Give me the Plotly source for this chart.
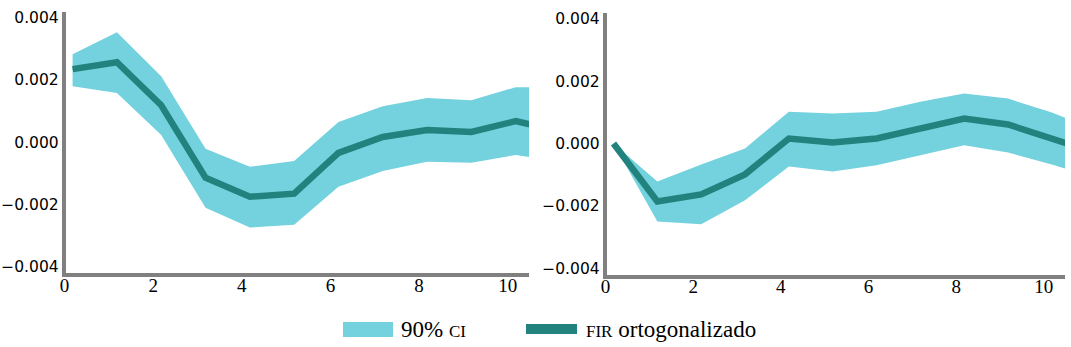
import plotly.graph_objects as go

W, H = 1071, 347

horizon = [0, 1, 2, 3, 4, 5, 6, 7, 8, 9, 10, 11]

left_irf = [0.00235, 0.00257, 0.00119, -0.00114, -0.00175, -0.00165, -0.00034, 0.00017, 0.00039, 0.00033, 0.00068, 0.00035]
left_upper = [0.00283, 0.00353, 0.00212, -0.00021, -0.00079, -0.00060, 0.00065, 0.00116, 0.00142, 0.00135, 0.00177, 0.00177]
left_lower = [0.00180, 0.00158, 0.00023, -0.00210, -0.00274, -0.00265, -0.00143, -0.00092, -0.00063, -0.00066, -0.00041, -0.00062]

right_irf = [0.0, -0.00186, -0.00163, -0.00099, 0.00016, 0.00003, 0.00016, 0.00048, 0.00080, 0.00061, 0.00016, -0.00030]
right_upper = [0.0, -0.00122, -0.00067, -0.00016, 0.00102, 0.00096, 0.00102, 0.00134, 0.00160, 0.00144, 0.00099, 0.00045]
right_lower = [0.0, -0.00250, -0.00259, -0.00182, -0.00074, -0.00090, -0.00070, -0.00038, -0.00006, -0.00029, -0.00067, -0.00110]

x_ticks = [0, 2, 4, 6, 8, 10]
y_ticks = [-0.004, -0.002, 0.0, 0.002, 0.004]

band_label = "90% <span style='font-size:17px'>CI</span>"
line_label = "<span style='font-size:17px'>FIR</span> ortogonalizado"

BAND = "#73D2DE"
LINE = "#22837E"
AXIS = "#808080"
SERIF = "Liberation Serif, Times New Roman, Times, serif"
SANS = "DejaVu Sans, Verdana, sans-serif"

fig = go.Figure()

panels = [
    ("x", "y", left_irf, left_upper, left_lower),
    ("x2", "y2", right_irf, right_upper, right_lower),
]
for xa, ya, irf, up, lo in panels:
    fig.add_trace(go.Scatter(x=horizon, y=lo, xaxis=xa, yaxis=ya, mode="lines",
                             line=dict(width=0, color=BAND), showlegend=False,
                             hoverinfo="skip"))
    fig.add_trace(go.Scatter(x=horizon, y=up, xaxis=xa, yaxis=ya, mode="lines",
                             line=dict(width=0, color=BAND), fill="tonexty",
                             fillcolor=BAND, showlegend=False, name="90% CI"))
    fig.add_trace(go.Scatter(x=horizon, y=irf, xaxis=xa, yaxis=ya, mode="lines",
                             line=dict(width=6.5, color=LINE), showlegend=False,
                             name="FIR ortogonalizado"))

xaxis_common = dict(
    range=[-0.16, 10.3], tickvals=x_ticks, ticktext=[str(v) for v in x_ticks],
    showgrid=False, zeroline=False, showline=True, linecolor=AXIS, linewidth=3.5,
    ticks="", ticklabelshift=-8, ticklabelstandoff=-8, automargin=False,
    tickfont=dict(family=SERIF, size=19, color="#000000"),
)
yaxis_common = dict(
    range=[-0.0042, 0.0042], tickvals=y_ticks, tickformat=".3f",
    showgrid=False, zeroline=False, showline=True, linecolor=AXIS, linewidth=3.5,
    ticks="", ticklabelstandoff=0, automargin=False,
    tickfont=dict(family=SANS, size=15.5, color="#000000"),
)

fig.update_layout(
    width=W, height=H,
    margin=dict(l=0, r=0, t=0, b=0, autoexpand=False),
    paper_bgcolor="white", plot_bgcolor="white",
    showlegend=False,
    xaxis=dict(domain=[65.5 / W, 529 / W], anchor="y", **xaxis_common),
    yaxis=dict(domain=[(H - 273) / H, (H - 11.5) / H], anchor="x", **yaxis_common),
    xaxis2=dict(domain=[606.5 / W, 1065 / W], anchor="y2", **xaxis_common),
    yaxis2=dict(domain=[(H - 274.5) / H, (H - 12.5) / H], anchor="x2", **yaxis_common),
)

# legend drawn in paper space
fig.add_shape(type="rect", xref="paper", yref="paper",
              x0=343 / W, x1=393 / W, y0=(H - 337) / H, y1=(H - 322) / H,
              fillcolor=BAND, line=dict(width=0))
fig.add_shape(type="rect", xref="paper", yref="paper",
              x0=526 / W, x1=577 / W, y0=(H - 334) / H, y1=(H - 324) / H,
              fillcolor=LINE, line=dict(width=0))
fig.add_annotation(xref="paper", yref="paper", x=399 / W, y=(H - 329) / H,
                   text=band_label, showarrow=False, xanchor="left", yanchor="middle",
                   font=dict(family=SERIF, size=23, color="#000000"))
fig.add_annotation(xref="paper", yref="paper", x=584 / W, y=(H - 329) / H,
                   text=line_label, showarrow=False, xanchor="left", yanchor="middle",
                   font=dict(family=SERIF, size=23, color="#000000"))

fig.write_html(
    "out.html",
    config={"displayModeBar": False},
    post_script="document.body.style.margin='0';document.body.style.overflow='hidden';",
)
